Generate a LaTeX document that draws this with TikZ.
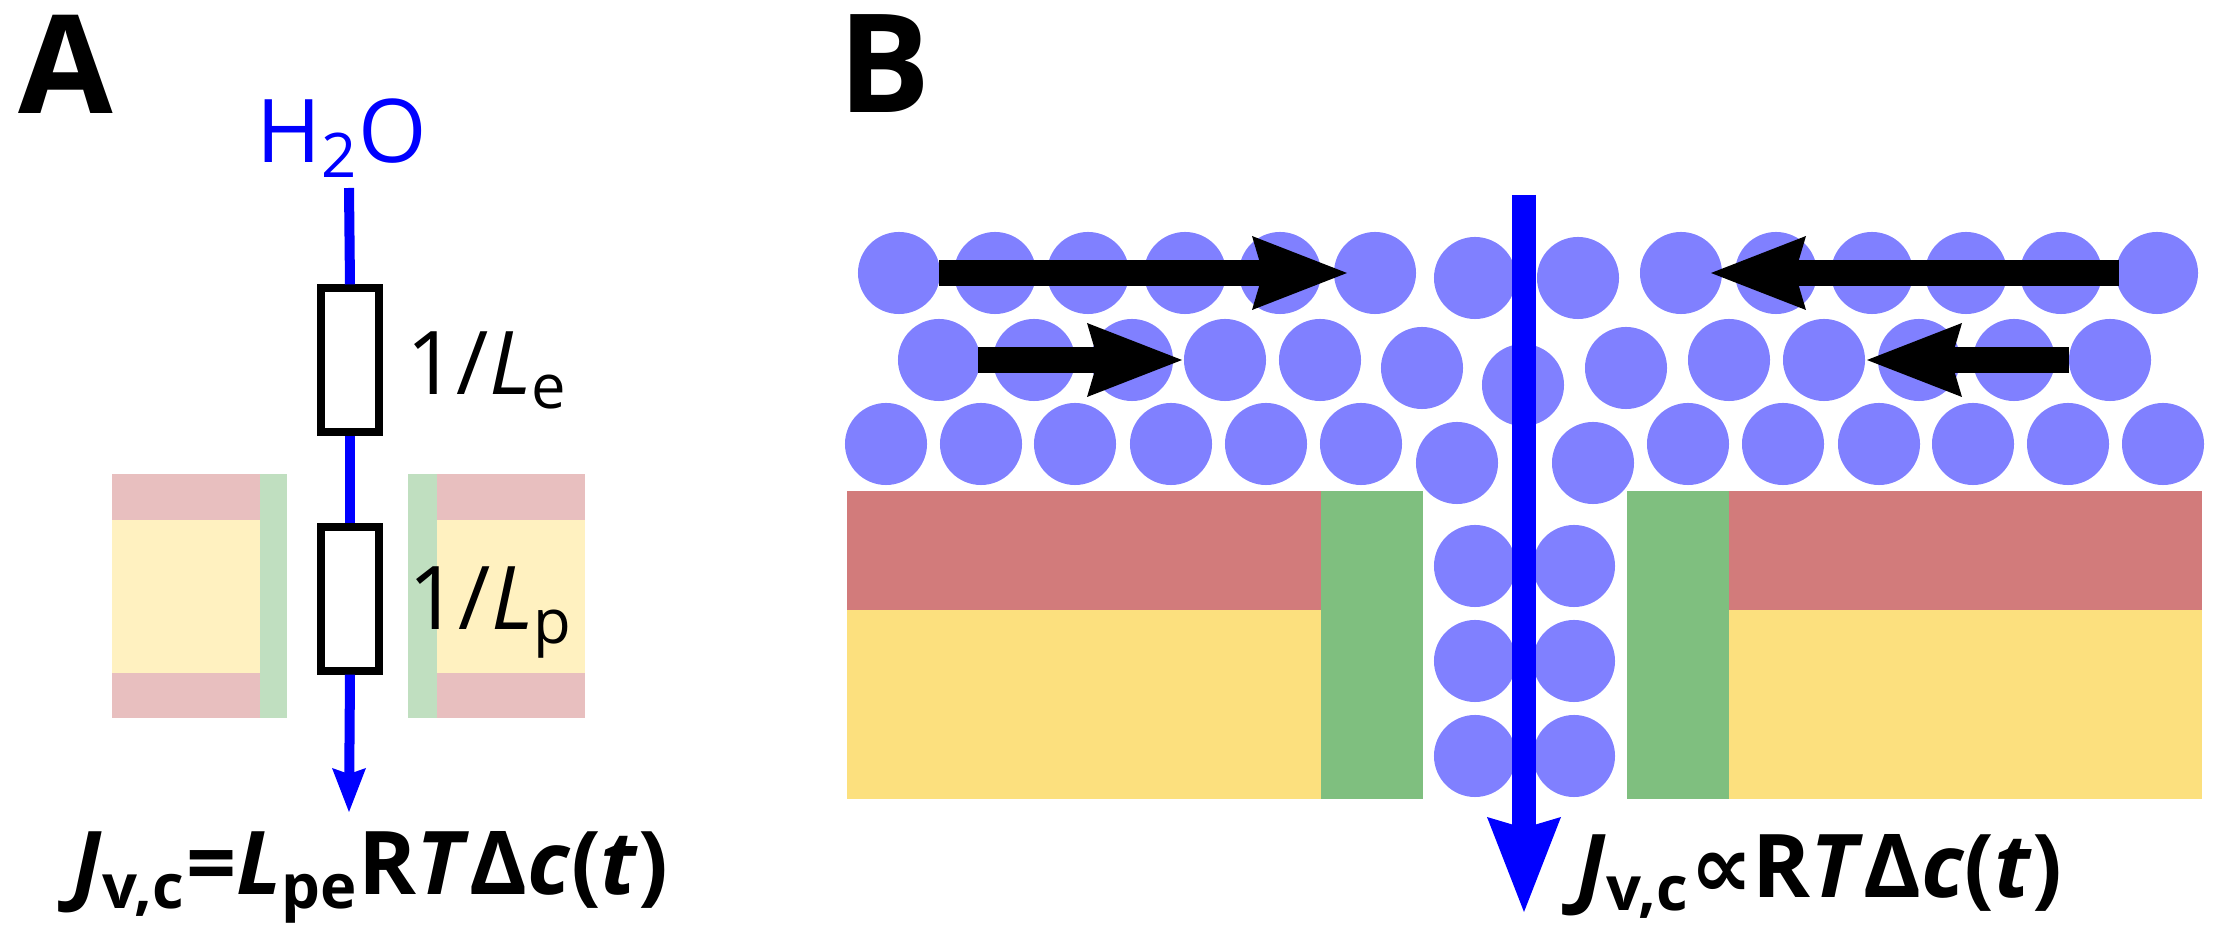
\documentclass[tikz,border=0pt]{standalone}
\usepackage{fontspec}
\setmainfont{Open Sans}
\newfontfamily\symfont{DejaVu Sans}
\definecolor{watercol}{HTML}{8080FF}
\definecolor{flowblue}{HTML}{0000FF}
\definecolor{redlayer}{HTML}{D27B7B}
\definecolor{yellowlayer}{HTML}{FCE07E}
\definecolor{greenlayer}{HTML}{7FBF7F}
\definecolor{palered}{HTML}{E8BFBF}
\definecolor{paleyellow}{HTML}{FFF1C0}
\definecolor{palegreen}{HTML}{C0DFC0}
\tikzset{
  water/.style={circle, fill=watercol, inner sep=0pt, minimum size=0.82cm},
  resistor/.style={draw=black, fill=white, line width=0.08cm, rectangle, inner sep=0pt,
    minimum width=0.57cm, minimum height=1.43cm},
  panel/.style={font=\fontsize{39}{39}\selectfont\bfseries, anchor=north west, inner sep=0pt},
  lbl/.style={font=\fontsize{25}{25}\selectfont, anchor=base west, inner sep=0pt},
  formula/.style={font=\fontsize{25}{25}\selectfont\bfseries, anchor=base west, inner sep=0pt},
  flow/.style={line width=0.25cm, shorten >=0.6cm},
  bighead/.pic={\fill (0,0) -- (-95,-37) -- (-84,0) -- (-95,37) -- cycle;},
  smallhead/.pic={\fill (0,0) -- (-44,-17) -- (-38,0) -- (-44,17) -- cycle;}
}
\begin{document}
\begin{tikzpicture}[x=0.01cm, y=-0.01cm]
    \useasboundingbox (0,0) rectangle (2223,952);
    % panel A
    \node[panel] (A) at (18,14) {A};
    \fill[palered] (112,474) rectangle (260,718);
    \fill[paleyellow] (112,520) rectangle (260,673);
    \fill[palegreen] (260,474) rectangle (287,718);
    \fill[palered] (437,474) rectangle (585,718);
    \fill[paleyellow] (437,520) rectangle (585,673);
    \fill[palegreen] (408,474) rectangle (437,718);
    \node[font=\fontsize{25}{25}\selectfont, text=flowblue, inner sep=0pt, anchor=base] (h2o) at (342,163) {H\textsubscript{2}O};
    \node[resistor] (Re) at (350,360) {};
    \node[resistor] (Rp) at (350,599) {};
    \coordinate (outA) at (349,812);
    \draw[flowblue, line width=0.1cm] (349,188) -- (Re.north);
    \draw[flowblue, line width=0.1cm] (Re.south) -- (Rp.north);
    \draw[flowblue, line width=0.1cm, shorten >=0.3cm] (Rp.south) -- (outA);
    \pic[flowblue, rotate=-90] at (outA) {smallhead};
    \node[lbl] (le) at (406,395) {1/\textit{L}\textsubscript{e}};
    \node[lbl] (lp) at (408,630) {1/\textit{L}\textsubscript{p}};
    \node[formula] (fa) at (72,895) {\textit{J}\textsubscript{v,c}=\textit{L}\textsubscript{pe}R\textit{T}Δ\textit{c}(\textit{t})};
    % panel B
    \node[panel] (B) at (838,14) {B};
    \fill[redlayer] (847,491) rectangle (1321,610);
    \fill[yellowlayer] (847,610) rectangle (1321,799);
    \fill[greenlayer] (1321,491) rectangle (1423,799);
    \fill[greenlayer] (1627,491) rectangle (1729,799);
    \fill[redlayer] (1729,491) rectangle (2202,610);
    \fill[yellowlayer] (1729,610) rectangle (2202,799);
    \foreach \x [count=\i] in {899,995,1088,1185,1280,1375,1681,1776,1872,1966,2061,2157}
      \node[water] (ra-\i) at (\x,273) {};
    \foreach \x [count=\i] in {939,1034,1132,1225,1320,1729,1824,1919,2014,2110}
      \node[water] (rb-\i) at (\x,360) {};
    \foreach \x [count=\i] in {886,981,1075,1171,1266,1361,1688,1783,1879,1973,2068,2163}
      \node[water] (rc-\i) at (\x,444) {};
    \node[water] (ga-1) at (1475,278) {};
    \node[water] (ga-2) at (1578,278) {};
    \node[water] (gb-1) at (1422,368) {};
    \node[water] (gb-2) at (1523,385) {};
    \node[water] (gb-3) at (1626,368) {};
    \node[water] (gc-1) at (1457,463) {};
    \node[water] (gc-2) at (1593,463) {};
    \foreach \y [count=\i] in {566,661,756} {
      \node[water] (pl-\i) at (1475,\y) {};
      \node[water] (pr-\i) at (1574,\y) {};
    }
    \coordinate (fa1) at (939,273);  \coordinate (fa2) at (1347,273);
    \coordinate (fb1) at (978,360);  \coordinate (fb2) at (1182,360);
    \coordinate (fc1) at (2119,273); \coordinate (fc2) at (1711,273);
    \coordinate (fd1) at (2069,360); \coordinate (fd2) at (1867,360);
    \draw[flow] (fa1) -- (fa2);
    \draw[flow] (fb1) -- (fb2);
    \draw[flow] (fc1) -- (fc2);
    \draw[flow] (fd1) -- (fd2);
    \pic at (fa2) {bighead};
    \pic at (fb2) {bighead};
    \pic[rotate=180] at (fc2) {bighead};
    \pic[rotate=180] at (fd2) {bighead};
    \coordinate (pin) at (1524,195);
    \coordinate (pout) at (1524,912);
    \draw[flowblue, line width=0.24cm, shorten >=0.6cm] (pin) -- (pout);
    \pic[flowblue, rotate=-90] at (pout) {bighead};
    \node[formula] (fb) at (1576,897) {\textit{J}\textsubscript{v,c}{\symfont ∝}R\textit{T}Δ\textit{c}(\textit{t})};
\end{tikzpicture}
\end{document}
